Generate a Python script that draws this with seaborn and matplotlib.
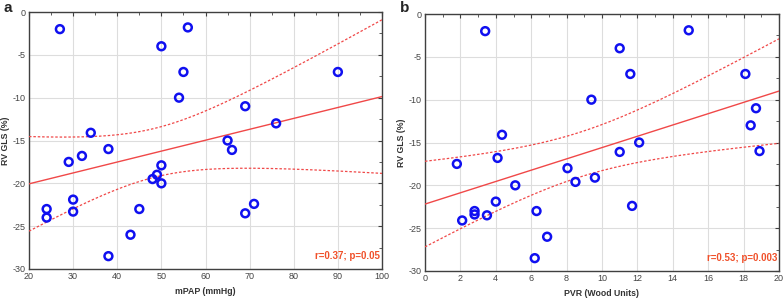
import numpy as np
import pandas as pd
import matplotlib
matplotlib.use("Agg")
import matplotlib.pyplot as plt
import seaborn as sns
from matplotlib.ticker import MultipleLocator, AutoMinorLocator

sns.set_style("white")
plt.rcParams['font.family'] = ['Liberation Sans', 'DejaVu Sans']
plt.rcParams['axes.unicode_minus'] = False

# Panel a: mPAP vs RV GLS
mpap = [27, 50, 56, 55, 54, 90, 69, 76, 34, 65, 66, 38,
        29, 32, 50, 49, 48, 50, 30, 24, 30, 24, 45, 43, 38, 69, 71]
gls_a = [-2, -4, -1.8, -7, -10, -7, -11, -13, -14.1, -15, -16.1, -16,
         -17.5, -16.8, -17.9, -19, -19.5, -20, -21.9, -23, -23.3, -24, -23, -26, -28.5, -23.5, -22.4]

# Panel b: PVR vs RV GLS
pvr = [3.4, 14.9, 11.0, 11.6, 9.4, 18.1, 18.7, 18.4, 4.35, 12.1, 11.0, 18.9,
       1.8, 4.1, 8.05, 8.5, 9.6, 5.1, 4.0, 2.8, 2.8, 2.1, 3.5, 6.3, 6.9, 6.2, 11.7]
gls_b = [-2, -1.9, -4, -7, -10, -7, -11, -13, -14.1, -15, -16.1, -16,
         -17.5, -16.8, -18, -19.6, -19.1, -20, -21.9, -23, -23.4, -24.1, -23.5, -23, -26, -28.5, -22.4]

stats_text = ["r=0.37; p=0.05", "r=0.53; p=0.003"]
xlabels = ["mPAP (mmHg)", "PVR (Wood Units)"]
ylabel = "RV GLS (%)"
panel_letters = ["a", "b"]
xlims = [(20, 100), (0, 20)]
xmajor = [10, 2]

fig = plt.figure(figsize=(7.84, 3.0), dpi=100)
ax1 = fig.add_axes([29/784, 1-269/300, 353/784, 257/300])
ax2 = fig.add_axes([425/784, 1-271/300, 354/784, 257/300])

blue = "#1010F0"
red = "#F04848"
txtred = "#F0502A"

datasets = [(mpap, gls_a), (pvr, gls_b)]
for i, (ax, (x, y)) in enumerate(zip([ax1, ax2], datasets)):
    x = np.asarray(x, float)
    y = np.asarray(y, float)
    df = pd.DataFrame({"x": x, "y": y})
    lo, hi = xlims[i]
    # regression and 95% confidence band
    n = len(x)
    b, a = np.polyfit(x, y, 1)
    xs = np.linspace(lo, hi, 200)
    yhat = a + b * xs
    resid = y - (a + b * x)
    s = np.sqrt(np.sum(resid**2) / (n - 2))
    se = s * np.sqrt(1/n + (xs - x.mean())**2 / np.sum((x - x.mean())**2))
    t = 2.060
    sns.lineplot(x=xs, y=yhat, ax=ax, color=red, lw=1.0, zorder=3)
    sns.lineplot(x=xs, y=yhat + t*se, ax=ax, color=red, lw=0.9, ls=(0, (2, 1.5)), zorder=3)
    sns.lineplot(x=xs, y=yhat - t*se, ax=ax, color=red, lw=0.9, ls=(0, (2, 1.5)), zorder=3)
    sns.scatterplot(data=df, x="x", y="y", ax=ax, marker="o", s=32,
                    facecolor="none", edgecolor=blue, linewidth=1.8, zorder=4)
    ax.set_xlim(lo, hi)
    ax.set_ylim(-30, 0)
    ax.xaxis.set_major_locator(MultipleLocator(xmajor[i]))
    ax.yaxis.set_major_locator(MultipleLocator(5))
    ax.xaxis.set_minor_locator(AutoMinorLocator(2))
    ax.yaxis.set_minor_locator(AutoMinorLocator(2))
    ax.grid(True, which="major", color="#DDDDDD", lw=0.8)
    ax.set_axisbelow(True)
    for sp in ax.spines.values():
        sp.set_color("#404040")
        sp.set_linewidth(1.0)
        sp.set_visible(True)
    ax.tick_params(which="both", direction="in", top=True, right=True,
                   labelsize=6.5, colors="#404040", labelcolor="#444444", pad=2.5)
    ax.tick_params(which="major", length=3)
    ax.tick_params(which="minor", length=2)
    ax.set_xlabel(xlabels[i], fontsize=6.3, fontweight="bold", labelpad=4, color="#333333")
    ax.set_ylabel(ylabel, fontsize=6.3, fontweight="bold", labelpad=2, color="#333333")
    ax.text(0.995, 0.03, stats_text[i], transform=ax.transAxes, ha="right", va="bottom",
            fontsize=7, fontweight="bold", color=txtred)

fig.text(4/784, 1-8/300, panel_letters[0], fontsize=11, fontweight="bold", va="center")
fig.text(400/784, 1-8/300, panel_letters[1], fontsize=11, fontweight="bold", va="center")

fig.savefig("out.png", dpi=100)
